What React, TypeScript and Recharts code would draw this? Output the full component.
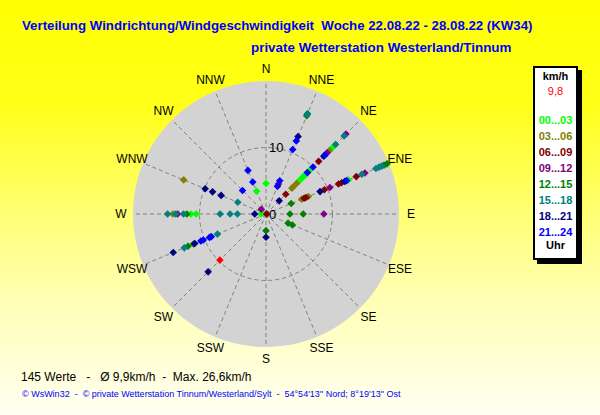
import React from "react";
import {
  PieChart,
  Pie,
  RadarChart,
  Radar,
  PolarGrid,
  PolarAngleAxis,
  PolarRadiusAxis,
  ScatterChart,
  Scatter,
  XAxis,
  YAxis,
} from "recharts";

// Windrichtung (16 Sektoren) und Geschwindigkeit in km/h je Uhrzeit-Block
type Pt = [string, number];

const directions = ["N", "NNE", "NE", "ENE", "E", "ESE", "SE", "SSE", "S", "SSW", "SW", "WSW", "W", "WNW", "NW", "NNW"];
const radiusTicks = [0, 10];
const binLabels = ["00...03", "03...06", "06...09", "09...12", "12...15", "15...18", "18...21", "21...24"];

const pts0003: Pt[] = [["NE", 7.0], ["NE", 7.4], ["NE", 7.8], ["NE", 8.2], ["NE", 8.6], ["NE", 9.0], ["NE", 9.4], ["NE", 14.1], ["ENE", 13.4], ["N", 4.6], ["NNW", 3.7], ["W", 11.3], ["W", 10.5], ["W", 0.75]];
const pts0306: Pt[] = [["NE", 5.5], ["NE", 5.8], ["NE", 6.5], ["NE", 13.5], ["ENE", 5.8], ["ENE", 6.9], ["WNW", 13.4], ["W", 14.0]];
const pts0609: Pt[] = [["NE", 4.2], ["NE", 11.2], ["ENE", 6.2], ["ENE", 6.5], ["ENE", 9.5], ["ENE", 11.8], ["ENE", 12.3], ["ENE", 14.7], ["E", 0.1]];
const pts0912: Pt[] = [["NNE", 4.9], ["NE", 13.0], ["NE", 17.0], ["ENE", 10.4], ["ENE", 16.1], ["E", 8.7], ["NW", 1.0], ["W", 13.3]];
const pts1215: Pt[] = [["NNE", 16.0], ["NNE", 16.3], ["ENE", 4.1], ["ENE", 19.2], ["ENE", 19.7], ["E", 3.6], ["E", 5.6], ["ESE", 3.6], ["ESE", 4.3], ["S", 2.5], ["W", 11.9], ["WSW", 11.8], ["WSW", 12.7]];
const pts1518: Pt[] = [["NNE", 16.2], ["NE", 14.8], ["NE", 16.6], ["ENE", 15.6], ["ENE", 17.9], ["ENE", 18.4], ["ENE", 18.8], ["WNW", 4.6], ["W", 14.8], ["W", 13.6], ["W", 12.4], ["W", 6.9], ["W", 5.4], ["W", 4.3], ["WSW", 7.9], ["WSW", 13.3]];
const pts1821: Pt[] = [["NNE", 12.6], ["NE", 2.8], ["NE", 12.3], ["ENE", 8.8], ["ENE", 12.8], ["S", 3.5], ["WNW", 9.9], ["WNW", 8.7], ["WNW", 7.3], ["W", 1.7], ["WSW", 11.6], ["WSW", 15.1], ["SW", 12.3]];
const pts2124: Pt[] = [["NNE", 11.9], ["NNE", 10.5], ["NNE", 5.4], ["NNE", 4.5], ["NE", 8.8], ["NE", 10.0], ["NE", 12.6], ["ENE", 13.1], ["NNW", 7.1], ["NNW", 5.2], ["NW", 5.0], ["WSW", 8.9], ["WSW", 9.2], ["WSW", 10.2], ["WSW", 10.6]];
const ptsCurrent: Pt[] = [["SW", 9.8]];

const allBins = [pts0003, pts0306, pts0609, pts0912, pts1215, pts1518, pts1821, pts2124];
const binColors = ["#00ff00", "#808000", "#800000", "#800080", "#008000", "#008080", "#000080", "#0000ff"];

const FONT = "'Liberation Sans', Arial, sans-serif";
const CX = 266;
const CY = 214;
const R = 133;
const MAXV = 20;

// Richtung + Betrag -> kartesisch fuer den Scatter-Layer
const toXY = (pts: Pt[]) =>
  pts.map(([d, v]) => {
    const a = (directions.indexOf(d) * 22.5 * Math.PI) / 180;
    return { x: v * Math.sin(a), y: v * Math.cos(a) };
  });

const dirData = directions.map((d) => ({ dir: d, zero: 0 }));

const Marker = (props: any) => {
  const { cx, cy, fill } = props;
  const s = 3.8;
  return <path d={`M${cx},${cy - s}L${cx + s},${cy}L${cx},${cy + s}L${cx - s},${cy}Z`} fill={fill} />;
};

const DirTick = ({ x, y, payload }: any) => (
  <text x={x} y={y} textAnchor="middle" dominantBaseline="central" fontSize={12} fontFamily={FONT} fill="#000">
    {payload.value}
  </text>
);

const RadTick = ({ x, y, payload }: any) => (
  <text x={x + 3} y={y} textAnchor="start" dominantBaseline="central" fontSize={13} fontFamily={FONT} fill="#000">
    {payload.value}
  </text>
);

const abs = (left: number, top: number): React.CSSProperties => ({ position: "absolute", left, top });

export default function App() {
  const pad = 10;
  return (
    <div
      style={{
        position: "absolute",
        left: 0,
        top: 0,
        width: 600,
        height: 415,
        overflow: "hidden",
        fontFamily: FONT,
        background: "linear-gradient(to bottom, #ffff00 0%, #ffff18 25%, #ffff70 50%, #ffffb4 72%, #fffff2 100%)",
      }}
    >
      {/* Titel */}
      <div style={{ ...abs(22, 18), fontSize: 13.25, fontWeight: "bold", color: "#0000ff", lineHeight: "16px", whiteSpace: "pre" }}>
        {"Verteilung Windrichtung/Windgeschwindigkeit  Woche 22.08.22 - 28.08.22 (KW34)"}
      </div>
      <div style={{ ...abs(251, 40), fontSize: 13.4, fontWeight: "bold", color: "#0000ff", lineHeight: "16px", whiteSpace: "pre" }}>
        private Wetterstation Westerland/Tinnum
      </div>

      {/* graue Scheibe */}
      <div style={abs(0, 0)}>
        <PieChart width={600} height={415} margin={{ top: 0, right: 0, bottom: 0, left: 0 }}>
          <Pie
            data={[{ value: 1 }]}
            dataKey="value"
            cx={CX}
            cy={CY}
            innerRadius={0}
            outerRadius={R}
            startAngle={0}
            endAngle={360}
            fill="#d3d3d3"
            stroke="none"
            isAnimationActive={false}
          />
        </PieChart>
      </div>

      {/* Polar-Gitter und Beschriftung */}
      <div style={abs(0, 0)}>
        <RadarChart width={600} height={415} data={dirData} cx={CX} cy={CY} outerRadius={R} margin={{ top: 0, right: 0, bottom: 0, left: 0 }}>
          <PolarGrid gridType="circle" stroke="#808080" strokeDasharray="4 3" innerRadius={8} />
          <PolarAngleAxis dataKey="dir" tick={<DirTick />} tickLine={false} axisLine={false} tickSize={12} />
          <PolarRadiusAxis angle={90} domain={[0, MAXV]} ticks={radiusTicks} axisLine={false} tickLine={false} tick={<RadTick />} />
          <Radar dataKey="zero" stroke="none" fill="none" dot={false} isAnimationActive={false} />
        </RadarChart>
      </div>

      {/* Messwerte */}
      <div style={abs(CX - R - pad, CY - R - pad)}>
        <ScatterChart width={2 * (R + pad)} height={2 * (R + pad)} margin={{ top: pad, right: pad, bottom: pad, left: pad }}>
          <XAxis type="number" dataKey="x" domain={[-MAXV, MAXV]} hide />
          <YAxis type="number" dataKey="y" domain={[-MAXV, MAXV]} hide />
          {allBins.map((pts, i) => (
            <Scatter key={binLabels[i]} data={toXY(pts)} fill={binColors[i]} shape={<Marker />} isAnimationActive={false} />
          ))}
          <Scatter data={toXY(ptsCurrent)} fill="#ff0000" shape={<Marker />} isAnimationActive={false} />
        </ScatterChart>
      </div>

      {/* Legende */}
      <div
        style={{
          ...abs(533, 66),
          width: 45,
          height: 194,
          boxSizing: "border-box",
          border: "2px solid #000",
          background: "#fff",
          boxShadow: "4px 4px 0 #000",
        }}
      />
      <div style={{ ...abs(533, 69), width: 45, textAlign: "center", fontSize: 11, fontWeight: "bold", lineHeight: "14px" }}>km/h</div>
      <div style={{ ...abs(533, 84), width: 45, textAlign: "center", fontSize: 11, color: "#ff0000", lineHeight: "14px" }}>9,8</div>
      {binLabels.map((l, i) => (
        <div
          key={l}
          style={{
            ...abs(533, 112.5 + i * 16.1),
            width: 45,
            textAlign: "center",
            fontSize: 11,
            fontWeight: "bold",
            color: binColors[i],
            lineHeight: "14px",
          }}
        >
          {l}
        </div>
      ))}
      <div style={{ ...abs(533, 238), width: 45, textAlign: "center", fontSize: 11, fontWeight: "bold", lineHeight: "14px" }}>Uhr</div>

      {/* Fusszeile */}
      <div style={{ ...abs(21, 369), fontSize: 12, lineHeight: "16px", whiteSpace: "pre", color: "#000" }}>
        {"145 Werte   -   Ø 9,9km/h  -  Max. 26,6km/h"}
      </div>
      <div style={{ ...abs(22, 388), fontSize: 9, lineHeight: "12px", whiteSpace: "pre", color: "#0000ff" }}>
        {"© WsWin32  -  © private Wetterstation Tinnum/Westerland/Sylt  -  54°54'13'' Nord; 8°19'13'' Ost"}
      </div>
    </div>
  );
}
